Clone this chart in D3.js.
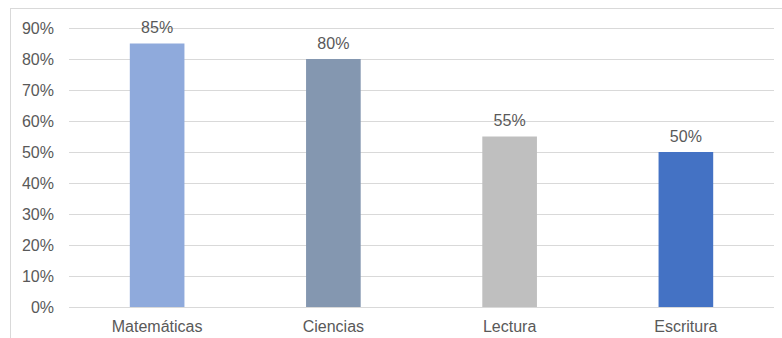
<!DOCTYPE html>
<html>
<head>
<meta charset="utf-8">
<script src="https://cdn.jsdelivr.net/npm/d3@7"></script>
<style>
  html, body { margin: 0; padding: 0; background: #fff; }
  svg { display: block; }
  text { font-family: "Liberation Sans", Arial, sans-serif; fill: #595959; }
</style>
</head>
<body>
<div id="chart"></div>
<script>
// Subjects and their percentages
const categories = ["Matemáticas", "Ciencias", "Lectura", "Escritura"];
const values = [85, 80, 55, 50];
const barColors = ["#8faadc", "#8497b0", "#bfbfbf", "#4472c4"];
const tickValues = [0, 10, 20, 30, 40, 50, 60, 70, 80, 90];

const W = 782, H = 338;
const margin = { left: 69, right: 8, top: 28, bottom: 31 };

const svg = d3.select("#chart").append("svg")
  .attr("width", W).attr("height", H);

// chart area frame
svg.append("rect")
  .attr("x", 10.5).attr("y", 8.5)
  .attr("width", W + 10).attr("height", H + 10)
  .attr("fill", "none").attr("stroke", "#d9d9d9");

const x = d3.scaleBand()
  .domain(categories)
  .range([margin.left, W - margin.right])
  .paddingInner(0.69)
  .paddingOuter(0.345);

const y = d3.scaleLinear()
  .domain([0, 90])
  .range([H - margin.bottom, margin.top]);

// horizontal gridlines
svg.append("g")
  .selectAll("line")
  .data(tickValues)
  .join("line")
  .attr("x1", margin.left).attr("x2", W - margin.right)
  .attr("y1", d => Math.round(y(d)) + 0.5)
  .attr("y2", d => Math.round(y(d)) + 0.5)
  .attr("stroke", "#d9d9d9").attr("stroke-width", 1);

// y axis labels
const yAxis = d3.axisLeft(y)
  .tickValues(tickValues)
  .tickFormat(d => d + "%")
  .tickSize(0)
  .tickPadding(15);
const gy = svg.append("g")
  .attr("transform", `translate(${margin.left},0)`)
  .call(yAxis);
gy.select(".domain").remove();
gy.selectAll("text")
  .attr("font-size", 16)
  .attr("font-family", "Liberation Sans, Arial, sans-serif")
  .attr("fill", "#595959");

// bars
svg.append("g")
  .selectAll("rect")
  .data(categories)
  .join("rect")
  .attr("x", d => x(d))
  .attr("width", x.bandwidth())
  .attr("y", (d, i) => y(values[i]))
  .attr("height", (d, i) => y(0) - y(values[i]))
  .attr("fill", (d, i) => barColors[i]);

// value labels
svg.append("g")
  .selectAll("text")
  .data(categories)
  .join("text")
  .attr("x", d => x(d) + x.bandwidth() / 2)
  .attr("y", (d, i) => y(values[i]) - 10.5)
  .attr("text-anchor", "middle")
  .attr("font-size", 16)
  .text((d, i) => values[i] + "%");

// category axis
const xAxis = d3.axisBottom(x).tickSize(0).tickPadding(13.5);
const gx = svg.append("g")
  .attr("transform", `translate(0,${y(0)})`)
  .call(xAxis);
gx.select(".domain").remove();
gx.selectAll("text")
  .attr("font-size", 16)
  .attr("font-family", "Liberation Sans, Arial, sans-serif")
  .attr("fill", "#595959");
</script>
</body>
</html>
